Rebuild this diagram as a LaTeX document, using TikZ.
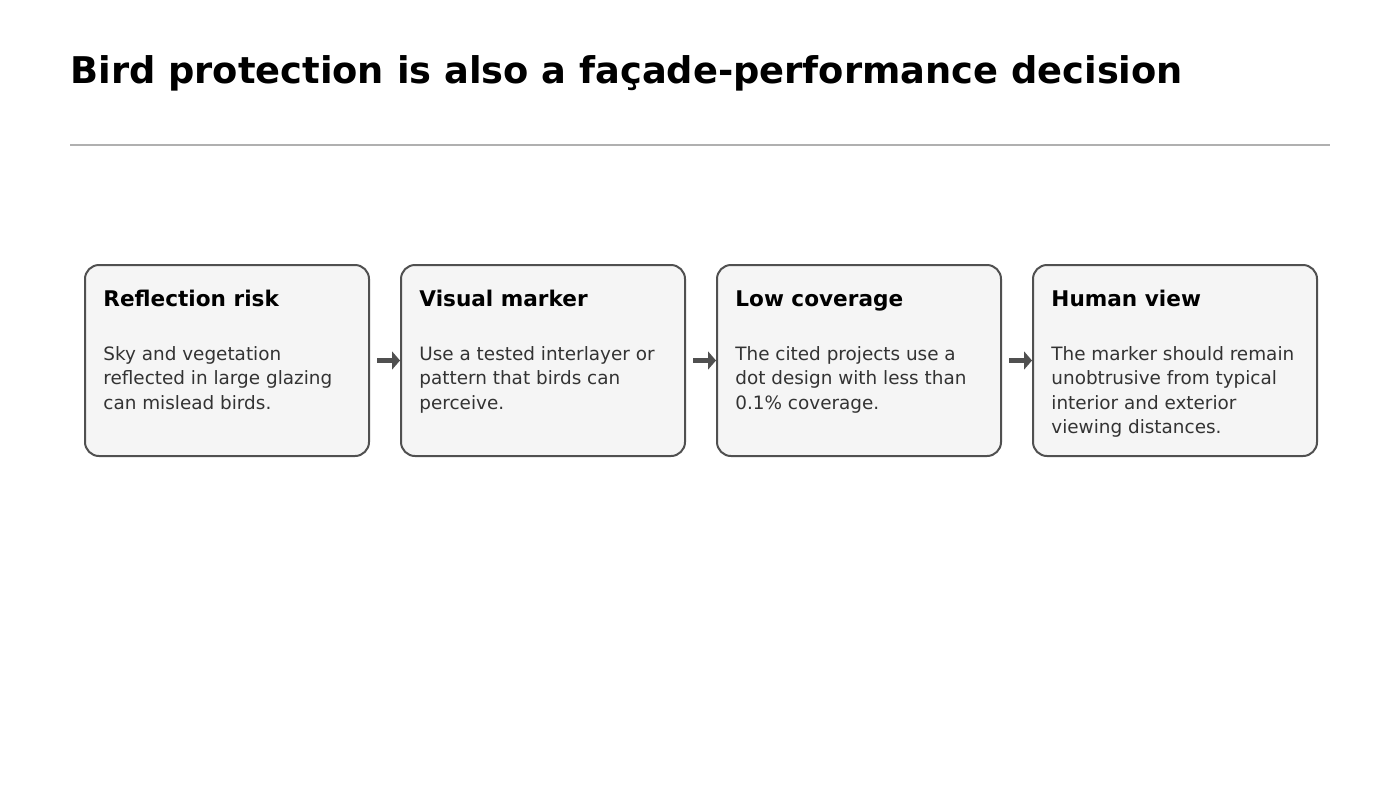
\documentclass[tikz,border=0pt]{standalone}
\usepackage{fontspec}
\setmainfont{DejaVu Sans}
\usetikzlibrary{arrows.meta,positioning}
\definecolor{cardfill}{HTML}{F5F5F5}
\definecolor{cardline}{HTML}{505050}
\definecolor{bodygray}{HTML}{333333}
\definecolor{rulegray}{HTML}{B0B0B0}
\tikzset{
  card/.style={draw=cardline, fill=cardfill, line width=1pt, rounded corners=7pt,
    minimum width=142pt, minimum height=95.5pt, anchor=north west, inner sep=0pt},
  cardhead/.style={anchor=base west, inner sep=0pt, font=\bfseries\fontsize{10.8}{13}\selectfont},
  cardbody/.style={anchor=north west, inner sep=0pt, align=left, text=bodygray,
    font=\fontsize{9.2}{12.25}\selectfont},
  flow/.style={draw=cardline, line width=2.5pt, -{Triangle[length=4pt,width=9pt]}, shorten <=3.5pt}
}
\begin{document}
\begin{tikzpicture}[x=0.5pt,y=-0.5pt]
  \useasboundingbox (0,0) rectangle (1400,788);
  % title and rule
  \node[anchor=base west, inner sep=0pt, font=\bfseries\fontsize{18.4}{22}\selectfont] (title) at (70,83)
    {Bird protection is also a façade-performance decision};
  \draw[rulegray, line width=1pt] (70,145) -- (1330,145);
  % the four cards
  \node[card] (risk) at (84,264) {};
  \node[card] (marker) at (400,264) {};
  \node[card] (coverage) at (716,264) {};
  \node[card] (view) at (1032,264) {};
  \node[cardhead] (riskhead) at (103,306) {Reflection risk};
  \node[cardhead] (markerhead) at (419,306) {Visual marker};
  \node[cardhead] (coveragehead) at (735,306) {Low coverage};
  \node[cardhead] (viewhead) at (1051,306) {Human view};
  \node[cardbody] (riskbody) at (103,346)
    {Sky and vegetation\\reflected in large glazing\\can mislead birds.};
  \node[cardbody] (markerbody) at (419,346)
    {Use a tested interlayer or\\pattern that birds can\\perceive.};
  \node[cardbody] (coveragebody) at (735,346)
    {The cited projects use a\\dot design with less than\\0.1\% coverage.};
  \node[cardbody] (viewbody) at (1051,346)
    {The marker should remain\\unobtrusive from typical\\interior and exterior\\viewing distances.};
  % arrows between cards
  \draw[flow] (risk) -- (marker);
  \draw[flow] (marker) -- (coverage);
  \draw[flow] (coverage) -- (view);
\end{tikzpicture}
\end{document}
